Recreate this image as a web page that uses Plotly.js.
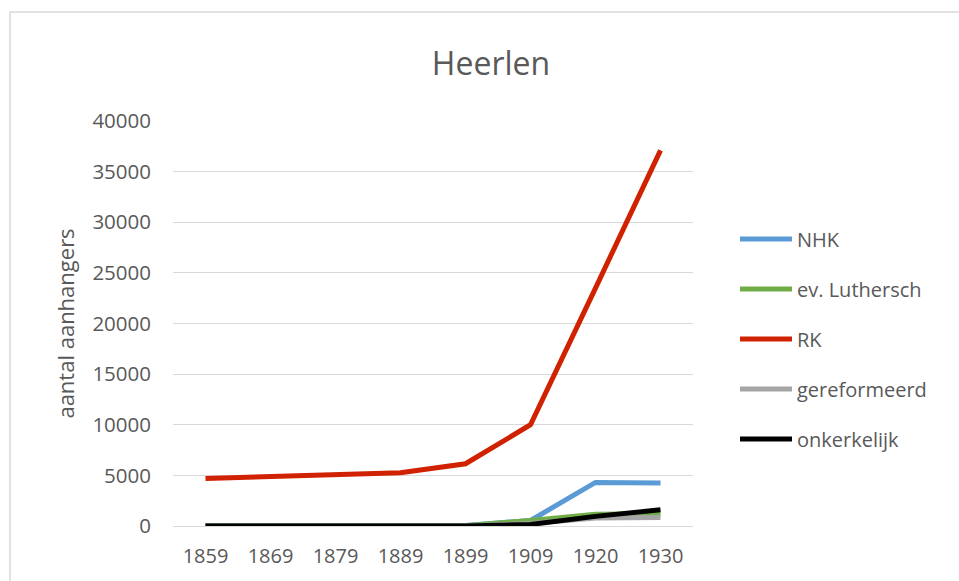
<!DOCTYPE html>
<html>
<head>
<meta charset="utf-8">
<script src="https://cdn.plot.ly/plotly-3.0.1.min.js"></script>
<style>
html,body{margin:0;padding:0;background:#fff;}
#chart{width:959px;height:581px;}
</style>
</head>
<body>
<div id="chart"></div>
<script>
const years = ["1859","1869","1879","1889","1899","1909","1920","1930"];
const nhk = [50, 50, 50, 50, 50, 550, 4300, 4250];
const luthersch = [20, 20, 20, 20, 30, 550, 1150, 1200];
const rk = [4700, 4850, 5000, 5250, 6150, 10000, 23500, 37100];
const gereformeerd = [0, 0, 0, 0, 0, 250, 800, 850];
const onkerkelijk = [0, 0, 0, 0, 0, 150, 950, 1600];
const seriesNames = ["NHK", "ev. Luthersch", "RK", "gereformeerd", "onkerkelijk"];
const seriesColors = ["#5B9BD5", "#70AD47", "#D02200", "#A5A5A5", "#000000"];
const seriesValues = [nhk, luthersch, rk, gereformeerd, onkerkelijk];

const font = '"Open Sans", "Noto Sans", sans-serif';
const textColor = '#595959';

const traces = seriesNames.map((name, i) => ({
  x: years,
  y: seriesValues[i],
  name: name,
  type: 'scatter',
  mode: 'lines',
  line: {color: seriesColors[i], width: 5},
  legendgroup: 'g' + i
}));

const L = 173, R = 693, T = 121, B = 526;
const W = 959, H = 581;
const px2x = p => (p - L) / (R - L);
const py2y = p => (B - p) / (B - T);

const layout = {
  width: W, height: H,
  margin: {l: L, r: W - R, t: T, b: H - B, pad: 0},
  paper_bgcolor: '#ffffff',
  plot_bgcolor: '#ffffff',
  font: {family: font, color: textColor, size: 20},
  title: {
    text: 'Heerlen',
    font: {family: font, size: 32, color: textColor},
    x: 491 / W, xref: 'container', xanchor: 'center',
    y: 1 - 64 / H, yref: 'container', yanchor: 'middle'
  },
  xaxis: {
    type: 'category',
    range: [-0.5, years.length - 0.5],
    showgrid: false,
    showline: false,
    zeroline: false,
    ticks: '',
    ticklabelstandoff: 16,
    tickfont: {family: font, size: 20, color: textColor}
  },
  yaxis: {
    range: [0, 40000],
    dtick: 5000,
    tick0: 0,
    tickformat: 'd',
    showgrid: true,
    gridcolor: '#d9d9d9',
    gridwidth: 1,
    zeroline: true,
    zerolinecolor: '#d9d9d9',
    zerolinewidth: 1,
    showline: false,
    ticks: '',
    ticklabelstandoff: 21,
    tickfont: {family: font, size: 20.5, color: textColor},
    title: {text: 'aantal aanhangers', font: {family: font, size: 22, color: textColor}, standoff: 11}
  },
  legend: {
    x: px2x(735), xanchor: 'left',
    y: py2y(339), yanchor: 'middle',
    traceorder: 'grouped',
    tracegroupgap: 21,
    itemwidth: 52,
    font: {family: font, size: 20, color: textColor},
    bgcolor: 'rgba(0,0,0,0)'
  },
  shapes: [{
    type: 'rect', xref: 'paper', yref: 'paper',
    x0: px2x(10), x1: px2x(975), y0: py2y(595), y1: py2y(12),
    line: {color: '#d9d9d9', width: 1.5},
    fillcolor: 'rgba(0,0,0,0)',
    layer: 'below'
  }],
  showlegend: true
};

Plotly.newPlot('chart', traces, layout, {displayModeBar: false, staticPlot: true});
</script>
</body>
</html>
